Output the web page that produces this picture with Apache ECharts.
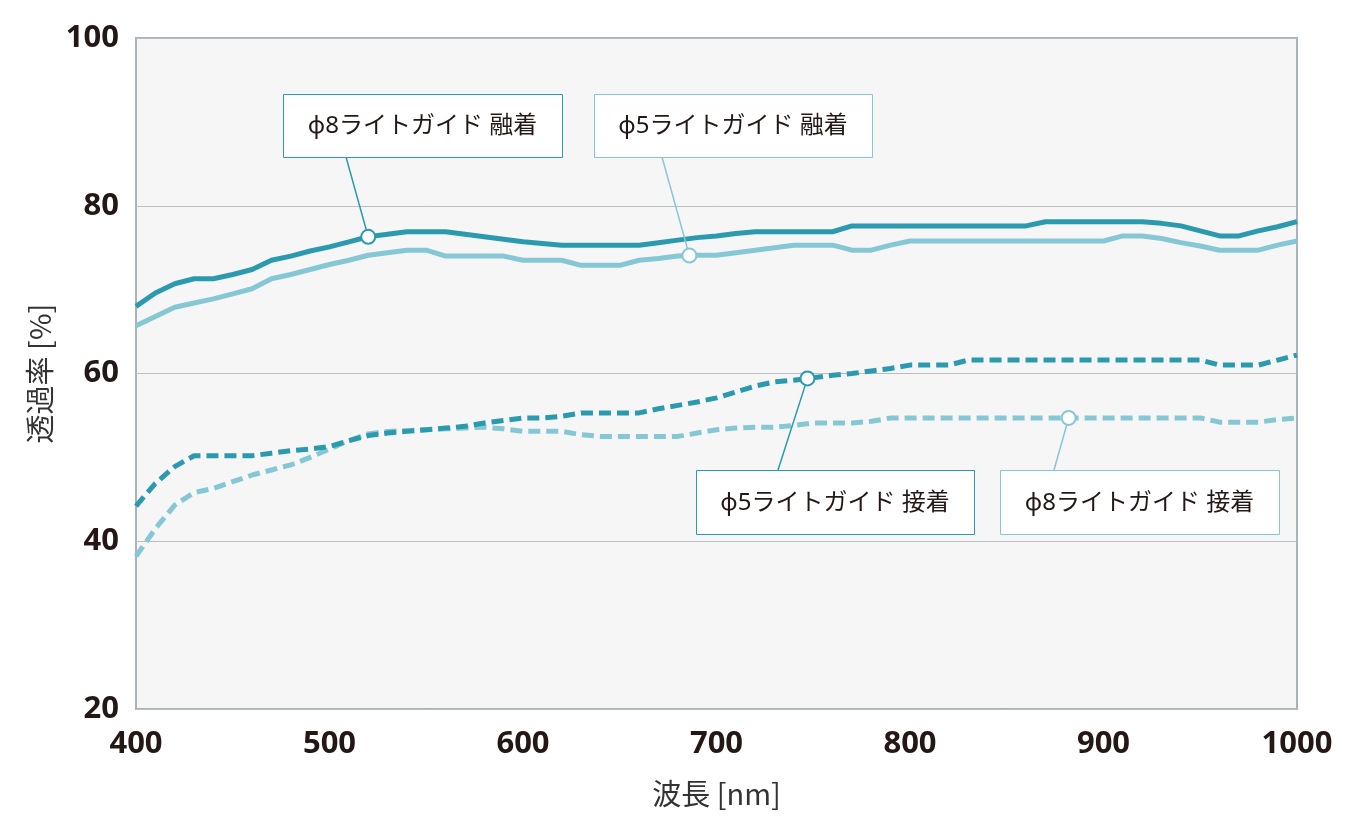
<!DOCTYPE html>
<html><head><meta charset="utf-8">
<script src="https://cdn.jsdelivr.net/npm/echarts@6/dist/echarts.min.js"></script>
<style>html,body{margin:0;padding:0;background:#fff}#c{width:1371px;height:835px}</style>
</head><body><div id="c"></div><script>
// ---- data ----
const wavelengths = [400,410,420,430,440,450,460,470,480,490,
  500,510,520,530,540,550,560,570,580,590,
  600,610,620,630,640,650,660,670,680,690,
  700,710,720,730,740,750,760,770,780,790,
  800,810,820,830,840,850,860,870,880,890,
  900,910,920,930,940,950,960,970,980,990,1000];
const phi8Fused = [68.0,69.6,70.7,71.3,71.3,71.8,72.4,73.5,74.0,74.6,
  75.1,75.7,76.3,76.6,76.9,76.9,76.9,76.6,76.3,76.0,
  75.7,75.5,75.3,75.3,75.3,75.3,75.3,75.6,75.9,76.2,
  76.4,76.7,76.9,76.9,76.9,76.9,76.9,77.6,77.6,77.6,
  77.6,77.6,77.6,77.6,77.6,77.6,77.6,78.1,78.1,78.1,
  78.1,78.1,78.1,77.9,77.6,77.0,76.4,76.4,77.0,77.5,78.1];
const phi5Fused = [65.7,66.8,67.9,68.4,68.9,69.5,70.1,71.3,71.8,72.4,
  73.0,73.5,74.1,74.4,74.7,74.7,74.0,74.0,74.0,74.0,
  73.5,73.5,73.5,72.9,72.9,72.9,73.5,73.7,74.0,74.1,
  74.1,74.4,74.7,75.0,75.3,75.3,75.3,74.7,74.7,75.3,
  75.8,75.8,75.8,75.8,75.8,75.8,75.8,75.8,75.8,75.8,
  75.8,76.4,76.4,76.1,75.6,75.2,74.7,74.7,74.7,75.3,75.8];
const phi5Bonded = [44.2,46.9,48.9,50.2,50.2,50.2,50.2,50.5,50.8,51.0,
  51.3,52.0,52.6,52.9,53.1,53.3,53.5,53.7,54.1,54.4,
  54.7,54.7,54.9,55.3,55.3,55.3,55.3,55.8,56.2,56.6,
  57.1,57.8,58.5,59.0,59.2,59.5,59.8,60.0,60.3,60.6,
  61.0,61.0,61.0,61.6,61.6,61.6,61.6,61.6,61.6,61.6,
  61.6,61.6,61.6,61.6,61.6,61.6,61.0,61.0,61.0,61.6,62.2];
const phi8Bonded = [38.2,41.5,44.3,45.8,46.3,47.1,47.9,48.5,49.1,50.0,
  51.0,52.0,52.8,53.1,53.2,53.3,53.4,53.5,53.6,53.4,
  53.1,53.1,53.1,52.7,52.5,52.5,52.5,52.5,52.5,52.9,
  53.3,53.5,53.6,53.6,53.8,54.1,54.1,54.1,54.3,54.7,
  54.7,54.7,54.7,54.7,54.7,54.7,54.7,54.7,54.7,54.7,
  54.7,54.7,54.7,54.7,54.7,54.7,54.2,54.2,54.2,54.5,54.7];
const seriesNames = ['φ8ライトガイド 融着','φ5ライトガイド 融着','φ5ライトガイド 接着','φ8ライトガイド 接着'];
const calloutWavelengths = [520, 686, 747, 882];
const yTicks = [20,40,60,80,100];
const xTicks = [400,500,600,700,800,900,1000];
const xAxisTitle = '波長 [nm]';
const yAxisTitle = '透過率 [%]';

// ---- styles / layout ----
const DARK = '#2b9aae', LIGHT = '#86c7d6', TEXT = '#231815';
const seriesData = [phi8Fused, phi5Fused, phi5Bonded, phi8Bonded];
const seriesColors = [DARK, LIGHT, DARK, LIGHT];
const seriesDashed = [false, false, true, true];
const boxes = [
  {x:283,y:94,w:279,h:63, ax:346, ay:157},
  {x:594,y:94,w:278,h:63, ax:662, ay:157},
  {x:696,y:470,w:278,h:64, ax:778, ay:470},
  {x:1000,y:470,w:279,h:64, ax:1054, ay:470}
];

function pairs(arr){ return wavelengths.map((w,i)=>[w,arr[i]]); }
function interp(arr, nm){
  for(let i=0;i<wavelengths.length-1;i++){
    if(nm>=wavelengths[i] && nm<=wavelengths[i+1]){
      const t=(nm-wavelengths[i])/(wavelengths[i+1]-wavelengths[i]);
      return arr[i]+(arr[i+1]-arr[i])*t;
    }
  }
  return arr[arr.length-1];
}

const chart = echarts.init(document.getElementById('c'), null, {renderer:'canvas'});
const order = [3,2,1,0];
const lineSeries = order.map(k=>({
  type:'line', name:seriesNames[k], data:pairs(seriesData[k]),
  showSymbol:false, symbol:'none', silent:true, z:2,
  lineStyle:{color:seriesColors[k], width:5, type: seriesDashed[k]?[12,6]:'solid', cap:'butt', join:'round'}
}));
const markerSeries = seriesData.map((arr,k)=>({
  type:'scatter', z:5, symbol:'circle', symbolSize:14, silent:true,
  data:[[calloutWavelengths[k], interp(arr, calloutWavelengths[k])]],
  itemStyle:{color:'#fff', borderColor:seriesColors[k], borderWidth:2, opacity:1}
}));

chart.setOption({
  animation:false,
  backgroundColor:'#fff',
  grid:{left:136, right:74, top:38, bottom:126, show:true, backgroundColor:'#f6f6f6', borderColor:'#aab3bb', borderWidth:2},
  xAxis:{type:'value', min:400, max:1000, interval:100,
    name:xAxisTitle, nameLocation:'middle', nameGap:70,
    nameTextStyle:{fontSize:29, color:'#333', fontFamily:'Noto Sans CJK JP'},
    axisLine:{show:false}, axisTick:{show:false}, splitLine:{show:false},
    axisLabel:{fontSize:31, fontWeight:'bold', color:TEXT, margin:20, fontFamily:'Noto Sans',
      formatter:v=>xTicks.includes(v)?String(v):''}},
  yAxis:{type:'value', min:20, max:100, interval:20,
    name:yAxisTitle, nameLocation:'middle', nameGap:80, nameRotate:90,
    nameTextStyle:{fontSize:29, color:'#333', fontFamily:'Noto Sans CJK JP'},
    axisLine:{show:false}, axisTick:{show:false},
    splitLine:{show:true, lineStyle:{color:'#b9bec3', width:1}},
    axisLabel:{fontSize:31, fontWeight:'bold', color:TEXT, margin:17, fontFamily:'Noto Sans',
      formatter:v=>yTicks.includes(v)?String(v):''}},
  series: lineSeries.concat(markerSeries)
});

const graphics = [];
boxes.forEach((b,k)=>{
  const nm = calloutWavelengths[k];
  const p = chart.convertToPixel({gridIndex:0}, [nm, interp(seriesData[k], nm)]);
  const dx=p[0]-b.ax, dy=p[1]-b.ay, d=Math.hypot(dx,dy), r=7;
  graphics.push({type:'line', z:3, silent:true,
    shape:{x1:b.ax, y1:b.ay, x2:p[0]-dx/d*r, y2:p[1]-dy/d*r},
    style:{stroke:seriesColors[k], lineWidth:1.5}});
  graphics.push({type:'rect', z:4, silent:true,
    shape:{x:b.x+0.5, y:b.y+0.5, width:b.w, height:b.h},
    style:{fill:'#fff', stroke:seriesColors[k], lineWidth:1}});
  graphics.push({type:'text', z:5, silent:true,
    x:b.x+b.w/2, y:b.y+b.h/2+1,
    style:{text:seriesNames[k], fill:TEXT, font:'24px "Noto Sans", "Noto Sans CJK JP"', align:'center', verticalAlign:'middle'}});
});
chart.setOption({graphic:graphics});
</script></body></html>
